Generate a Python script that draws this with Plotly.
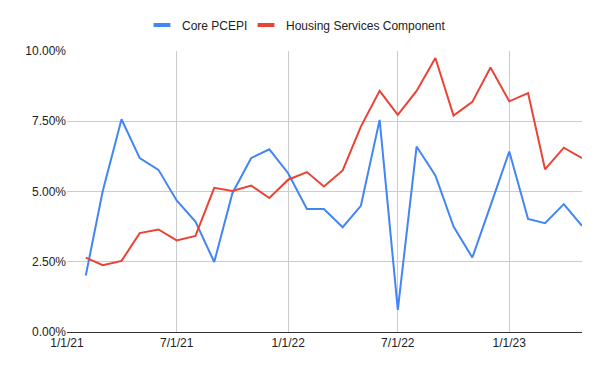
import plotly.graph_objects as go

months = [
    "2021-02-01", "2021-03-01", "2021-04-01", "2021-05-01", "2021-06-01", "2021-07-01",
    "2021-08-01", "2021-09-01", "2021-10-01", "2021-11-01", "2021-12-01", "2022-01-01",
    "2022-02-01", "2022-03-01", "2022-04-01", "2022-05-01", "2022-06-01", "2022-07-01",
    "2022-08-01", "2022-09-01", "2022-10-01", "2022-11-01", "2022-12-01", "2023-01-01",
    "2023-02-01", "2023-03-01", "2023-04-01", "2023-05-01",
]
core_pcepi = [
    2.01, 5.02, 7.57, 6.19, 5.77, 4.68, 3.93, 2.49, 4.94, 6.19, 6.50, 5.65,
    4.38, 4.38, 3.73, 4.49, 7.55, 0.79, 6.60, 5.57, 3.75, 2.65, 4.50, 6.42,
    4.02, 3.87, 4.55, 3.78,
]
housing = [
    2.65, 2.38, 2.53, 3.52, 3.65, 3.26, 3.42, 5.13, 5.02, 5.21, 4.77, 5.42,
    5.69, 5.18, 5.75, 7.31, 8.58, 7.73, 8.58, 9.75, 7.70, 8.19, 9.41, 8.21,
    8.50, 5.79, 6.56, 6.19,
]
series_names = ["Core PCEPI", "Housing Services Component"]
series_colors = ["#4285F4", "#EA4335"]
legend_ids = ["legend", "legend2"]
y_ticks = [0, 2.5, 5, 7.5, 10]
y_tick_labels = ["0.00%", "2.50%", "5.00%", "7.50%", "10.00%"]

FONT = "Liberation Sans, Arial, sans-serif"

fig = go.Figure()
for name, vals, col, lg in zip(series_names, [core_pcepi, housing], series_colors, legend_ids):
    fig.add_trace(go.Scatter(x=months, y=vals, mode="lines", name=name,
                             line=dict(color=col, width=2), showlegend=False))
    # legend entry with a short thick swatch like the reference
    fig.add_trace(go.Scatter(x=[None], y=[None], mode="markers", name=name,
                             marker=dict(symbol="line-ew", size=12,
                                         line=dict(color=col, width=4)),
                             showlegend=True, legend=lg))

legend_common = dict(orientation="h", xref="container", xanchor="left",
                     yref="container", y=0.954, yanchor="middle",
                     bgcolor="rgba(0,0,0,0)",
                     font=dict(family=FONT, size=12, color="#222222"))

fig.update_layout(
    width=600, height=371,
    margin=dict(l=59, r=26, t=43, b=47, autoexpand=False),
    paper_bgcolor="white", plot_bgcolor="white",
    font=dict(family=FONT, size=12, color="#222222"),
    legend=dict(x=0.2233, **legend_common),
    legend2=dict(x=0.3967, **legend_common),
)
fig.update_xaxes(
    type="date", range=["2021-01-01", "2023-05-01"],
    tick0="2021-01-01", dtick="M6", tickformat="%-m/%-d/%y",
    showgrid=True, gridcolor="#cccccc", gridwidth=1,
    showline=True, linecolor="#333333", linewidth=1, mirror=False,
    ticks="", tickfont=dict(family=FONT, size=12, color="#222222"),
    zeroline=False,
)
fig.update_yaxes(
    range=[0, 10], tickmode="array", tickvals=y_ticks, ticktext=y_tick_labels,
    showgrid=True, gridcolor="#cccccc", gridwidth=1,
    showline=False, zeroline=False, ticks="",
    tickfont=dict(family=FONT, size=12, color="#222222"),
)

fig.write_html("out.html")
